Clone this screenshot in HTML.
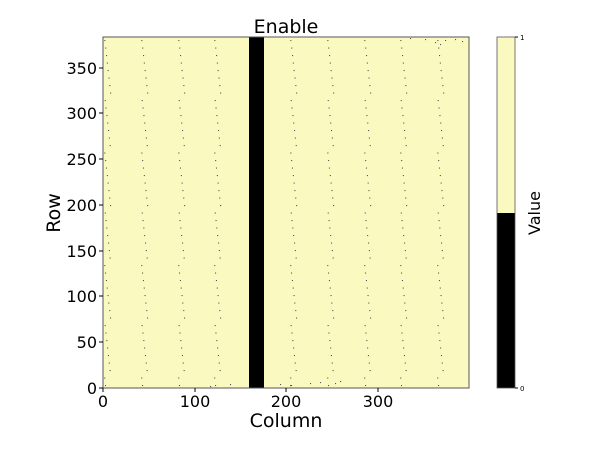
<!DOCTYPE html>
<html><head><meta charset="utf-8"><style>
body{margin:0;background:#fff;width:600px;height:450px;overflow:hidden}
svg text{font-family:"DejaVu Sans","Liberation Sans",sans-serif;fill:#000}
</style></head><body>
<svg id="s" width="600" height="450" xmlns="http://www.w3.org/2000/svg">
<rect x="103" y="37" width="366" height="351" fill="#fafac0"/>
<g id="dots"></g>
<rect x="249" y="37" width="15" height="351" fill="#000"/>
<rect x="103" y="37" width="366" height="351" fill="none" stroke="#555" stroke-width="1"/>
<text x="286" y="33" font-size="19" text-anchor="middle">Enable</text>
<g font-size="16" text-anchor="middle">
<text x="103" y="407">0</text><text x="195" y="407">100</text><text x="286" y="407">200</text><text x="378" y="407">300</text>
</g>
<g stroke="#000"><line x1="103" y1="388" x2="103" y2="392"/><line x1="195" y1="388" x2="195" y2="392"/><line x1="286" y1="388" x2="286" y2="392"/><line x1="378" y1="388" x2="378" y2="392"/>
<line x1="99" y1="388" x2="103" y2="388"/><line x1="99" y1="342" x2="103" y2="342"/><line x1="99" y1="296" x2="103" y2="296"/><line x1="99" y1="251" x2="103" y2="251"/><line x1="99" y1="205" x2="103" y2="205"/><line x1="99" y1="159" x2="103" y2="159"/><line x1="99" y1="113" x2="103" y2="113"/><line x1="99" y1="68" x2="103" y2="68"/></g>
<g font-size="16" text-anchor="end">
<text x="97" y="394">0</text><text x="97" y="348">50</text><text x="97" y="302">100</text><text x="97" y="257">150</text><text x="97" y="211">200</text><text x="97" y="165">250</text><text x="97" y="119">300</text><text x="97" y="74">350</text>
</g>
<text x="286" y="427" font-size="19" text-anchor="middle">Column</text>
<text x="60" y="213" font-size="19" text-anchor="middle" transform="rotate(-90 60 213)">Row</text>
<rect x="497" y="37" width="18" height="176" fill="#fafac0"/>
<rect x="497" y="213" width="18" height="175" fill="#000"/>
<rect x="497" y="37" width="18" height="351" fill="none" stroke="#555" stroke-width="0.8"/>
<line x1="515" y1="37" x2="518" y2="37" stroke="#000"/><line x1="515" y1="388" x2="518" y2="388" stroke="#000"/>
<text x="520" y="40" font-size="7">1</text><text x="520" y="391" font-size="7">0</text>
<text x="540" y="213" font-size="16" text-anchor="middle" transform="rotate(-90 540 213)">Value</text>
</svg>
<script>
var g=document.getElementById('dots'),h='';
var bases=[104,141,178,214,254,290,327,364,400,437];
bases.forEach(function(b){
 for(var y=40;y<386;y+=7.5){
  var seg=(y-37)%56.5; var x=b+seg*0.11;
  h+='<rect x="'+x.toFixed(1)+'" y="'+y.toFixed(1)+'" width="1.1" height="1.1" fill="#555"/>';
 }
});
[[280,384],[290,385],[310,383],[320,382],[335,383],[340,381],[210,386],[230,384],[410,38],[425,39],[435,42],[445,40],[455,39],[462,41],[440,44]].forEach(function(p){
 h+='<rect x="'+p[0]+'" y="'+p[1]+'" width="1.1" height="1.1" fill="#555"/>';});
g.innerHTML=h;
</script>
</body></html>
